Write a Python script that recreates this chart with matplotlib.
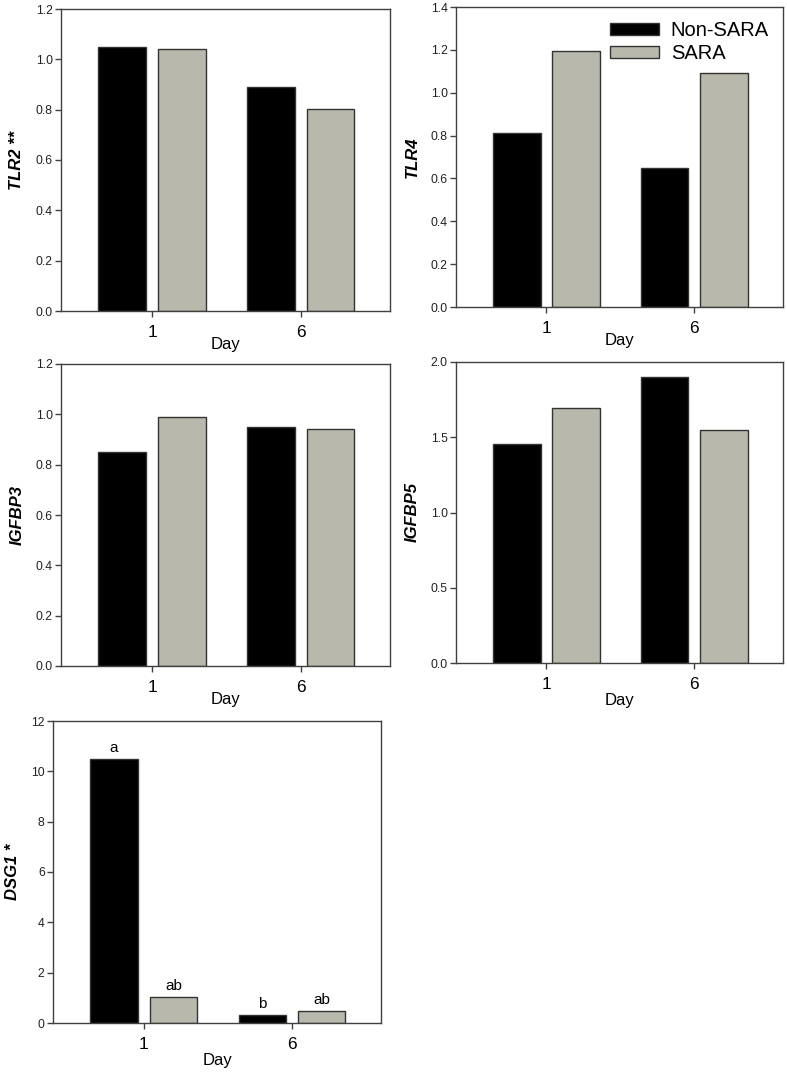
import matplotlib
matplotlib.use("Agg")
import matplotlib.pyplot as plt
import numpy as np

plt.rcParams['font.family'] = ['Liberation Sans', 'DejaVu Sans']

days = ["1", "6"]
series = ["Non-SARA", "SARA"]
tlr2_non = [1.048, 0.890]
tlr2_sara = [1.042, 0.803]
tlr4_non = [0.812, 0.650]
tlr4_sara = [1.196, 1.094]
igfbp3_non = [0.850, 0.948]
igfbp3_sara = [0.990, 0.942]
igfbp5_non = [1.457, 1.902]
igfbp5_sara = [1.696, 1.546]
dsg1_non = [10.49, 0.32]
dsg1_sara = [1.02, 0.465]
dsg1_letters_non = ["a", "b"]
dsg1_letters_sara = ["ab", "ab"]

W, H = 787, 1072
fig = plt.figure(figsize=(W / 100, H / 100), dpi=100)

def add_axes(l, r, t, b):
    return fig.add_axes([l / W, 1 - b / H, (r - l) / W, (b - t) / H])

black = "#000000"
gray = "#b8b8ac"
edge = "#333333"
frame = "#404040"

def panel(ax, non, sara, ylabel, ylim, yticks, yfmt, daypos=-0.11):
    x = np.arange(len(days))
    w = 0.32
    ax.bar(x - 0.2, non, w, color=black, edgecolor=edge, linewidth=1, label=series[0])
    ax.bar(x + 0.2, sara, w, color=gray, edgecolor=edge, linewidth=1, label=series[1])
    ax.set_xlim(-0.612, 1.60)
    ax.set_ylim(*ylim)
    ax.set_yticks(yticks)
    ax.set_yticklabels([yfmt.format(v) for v in yticks], fontsize=8.8, color="#222222")
    ax.set_xticks(x)
    ax.set_xticklabels(days, fontsize=12.5)
    ax.tick_params(axis='x', length=4, width=1, color=frame, pad=6)
    ax.tick_params(axis='y', length=4, width=1, color=frame, pad=2)
    for s in ax.spines.values():
        s.set_color(frame)
        s.set_linewidth(1)
    ax.set_ylabel(ylabel, fontsize=12, fontweight='bold', fontstyle='italic', labelpad=8)
    ax.text(0.5, daypos, "Day", transform=ax.transAxes, ha='center', va='center', fontsize=12)
    return ax

ax1 = add_axes(61, 390, 9, 311)
panel(ax1, tlr2_non, tlr2_sara, "TLR2 **", (0, 1.2), [0, 0.2, 0.4, 0.6, 0.8, 1.0, 1.2], "{:.1f}")

ax2 = add_axes(456, 783, 7, 307)
panel(ax2, tlr4_non, tlr4_sara, "TLR4", (0, 1.4), [0, 0.2, 0.4, 0.6, 0.8, 1.0, 1.2, 1.4], "{:.1f}")
ax2.legend(loc='upper right', bbox_to_anchor=(1.0, 1.0), frameon=False, fontsize=14.5,
           handlelength=2.4, handleheight=0.5, handletextpad=0.6, labelspacing=0.2,
           borderaxespad=0.3)

ax3 = add_axes(61, 390, 364, 666)
panel(ax3, igfbp3_non, igfbp3_sara, "IGFBP3", (0, 1.2), [0, 0.2, 0.4, 0.6, 0.8, 1.0, 1.2], "{:.1f}")

ax4 = add_axes(456, 783, 362, 663)
panel(ax4, igfbp5_non, igfbp5_sara, "IGFBP5", (0, 2.0), [0, 0.5, 1.0, 1.5, 2.0], "{:.1f}", daypos=-0.125)

ax5 = add_axes(53, 381, 721, 1023)
panel(ax5, dsg1_non, dsg1_sara, "DSG1 *", (0, 12), [0, 2, 4, 6, 8, 10, 12], "{:.0f}", daypos=-0.125)
x = np.arange(len(days))
for i in range(len(days)):
    ax5.annotate(dsg1_letters_non[i], (x[i] - 0.2, dsg1_non[i]), xytext=(0, 3),
                 textcoords='offset points', ha='center', va='bottom', fontsize=11)
    ax5.annotate(dsg1_letters_sara[i], (x[i] + 0.2, dsg1_sara[i]), xytext=(0, 3),
                 textcoords='offset points', ha='center', va='bottom', fontsize=11)

fig.savefig("out.png", dpi=100)
